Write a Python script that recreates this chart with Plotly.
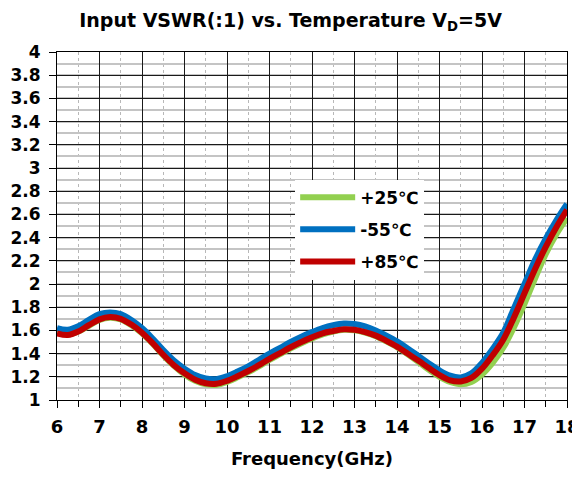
import plotly.graph_objects as go

# ---- data ----
freq = [6.0, 6.25, 6.5, 6.75, 7.0, 7.25, 7.5, 7.75, 8.0, 8.25, 8.5, 8.75, 9.0, 9.25, 9.5, 9.75,
        10.0, 10.25, 10.5, 10.75, 11.0, 11.25, 11.5, 11.75, 12.0, 12.25, 12.5, 12.75, 13.0, 13.25,
        13.5, 13.75, 14.0, 14.25, 14.5, 14.75, 15.0, 15.25, 15.5, 15.75, 16.0, 16.25, 16.5, 16.75,
        17.0, 17.25, 17.5, 17.75, 18.0]

vswr_m55 = [1.62, 1.605, 1.635, 1.69, 1.74, 1.755, 1.74, 1.69, 1.62, 1.53, 1.43, 1.34, 1.27, 1.215, 1.185, 1.18,
            1.205, 1.245, 1.29, 1.345, 1.40, 1.45, 1.50, 1.545, 1.585, 1.62, 1.645, 1.66, 1.655, 1.635,
            1.60, 1.555, 1.505, 1.445, 1.38, 1.315, 1.255, 1.21, 1.195, 1.23, 1.32, 1.44, 1.58, 1.79,
            2.00, 2.21, 2.39, 2.55, 2.69]

vswr_p85 = [1.575, 1.56, 1.59, 1.645, 1.695, 1.715, 1.70, 1.65, 1.58, 1.49, 1.39, 1.30, 1.23, 1.175, 1.145, 1.14,
            1.165, 1.205, 1.25, 1.30, 1.355, 1.405, 1.455, 1.50, 1.54, 1.575, 1.595, 1.61, 1.605, 1.585,
            1.555, 1.51, 1.46, 1.40, 1.34, 1.275, 1.215, 1.17, 1.16, 1.19, 1.27, 1.385, 1.52, 1.71,
            1.92, 2.13, 2.32, 2.49, 2.64]

vswr_p25 = [1.615, 1.565, 1.59, 1.64, 1.69, 1.71, 1.695, 1.645, 1.575, 1.485, 1.385, 1.295, 1.22, 1.165, 1.135, 1.13,
            1.155, 1.195, 1.24, 1.29, 1.345, 1.395, 1.445, 1.49, 1.53, 1.565, 1.59, 1.605, 1.60, 1.58,
            1.55, 1.505, 1.455, 1.395, 1.33, 1.26, 1.20, 1.155, 1.135, 1.155, 1.22, 1.32, 1.45, 1.625,
            1.83, 2.05, 2.26, 2.43, 2.57]

series_names = ["+25℃", "-55℃", "+85℃"]
series_colors = ["#92D050", "#0070C0", "#C00000"]

x_ticks = list(range(6, 19))
y_ticks = [1 + 0.2 * i for i in range(16)]
y_tick_text = ["1", "1.2", "1.4", "1.6", "1.8", "2", "2.2", "2.4", "2.6", "2.8", "3", "3.2", "3.4", "3.6", "3.8", "4"]

FONT = "DejaVu Sans"

fig = go.Figure()
for i, vy in enumerate([vswr_p25, vswr_m55, vswr_p85]):
    fig.add_trace(go.Scatter(
        x=freq, y=vy, mode="lines", name=series_names[i],
        legendgroup=str(i),
        line=dict(color=series_colors[i], width=6, shape="spline", smoothing=1.0),
    ))

# page body has an 8px margin, so the figure is made smaller than the window
fig.update_layout(
    width=572, height=461,
    margin=dict(l=49, r=13, t=44, b=69, autoexpand=False),
    paper_bgcolor="white", plot_bgcolor="white",
    title=dict(text="Input VSWR(:1) vs. Temperature V<sub>D</sub>=5V",
               x=0.494, xanchor="center", xref="container",
               y=0.973, yanchor="middle", yref="container",
               font=dict(family=FONT, size=19, color="black", weight="bold")),
    legend=dict(x=0.467, y=0.633, xanchor="left", yanchor="top",
                bgcolor="white", borderwidth=0, tracegroupgap=7,
                traceorder="grouped", itemwidth=55,
                font=dict(family=FONT, size=17, color="black", weight="bold")),
    showlegend=True,
)

fig.update_xaxes(
    range=[6, 18], tickmode="array", tickvals=x_ticks,
    ticks="outside", ticklen=7, tickcolor="black", ticklabelstandoff=3,
    showline=True, linecolor="black", linewidth=1, mirror=True,
    showgrid=True, gridcolor="#1a1a1a", gridwidth=1,
    minor=dict(dtick=0.5, tick0=6, showgrid=True, gridcolor="#b8b8b8", griddash="dot",
               gridwidth=1, ticks="outside", ticklen=6, tickcolor="black"),
    tickfont=dict(family=FONT, size=18, color="black", weight="bold"),
    title=dict(text="Frequency(GHz)", standoff=22,
               font=dict(family=FONT, size=18, color="black", weight="bold")),
    zeroline=False, automargin=False,
)
fig.update_yaxes(
    range=[1, 4], tickmode="array", tickvals=y_ticks, ticktext=y_tick_text,
    ticks="outside", ticklen=7, tickcolor="black", ticklabelstandoff=5,
    showline=True, linecolor="black", linewidth=1, mirror=True,
    showgrid=True, gridcolor="#1a1a1a", gridwidth=1,
    minor=dict(dtick=0.1, tick0=1, showgrid=True, gridcolor="#c4c4c4", gridwidth=1.5),
    tickfont=dict(family=FONT, size=17, color="black", weight="bold"),
    zeroline=False, automargin=False,
)

fig.write_html("out.html")
